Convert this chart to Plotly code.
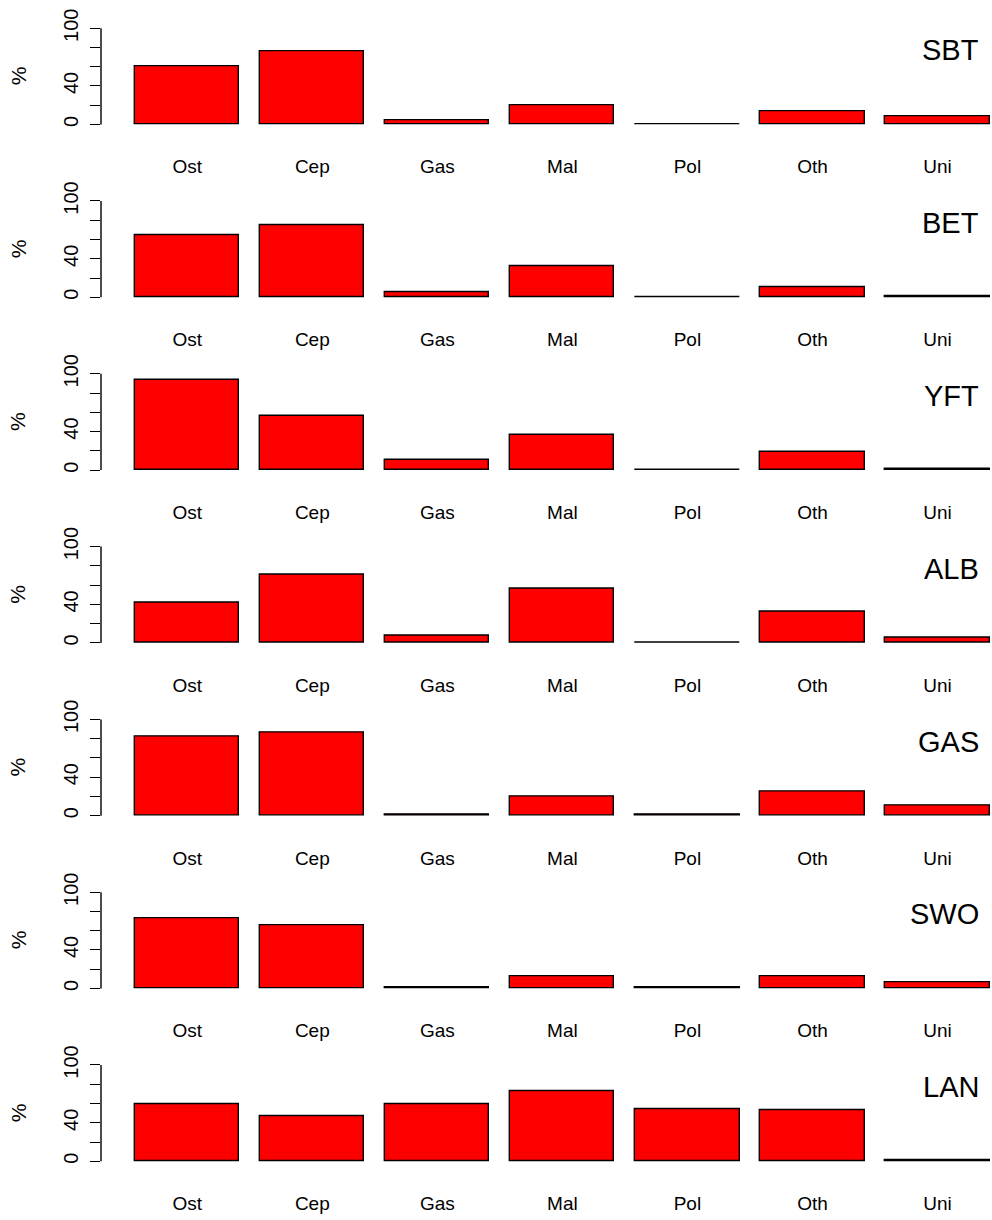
import plotly.graph_objects as go

# Prey categories (x axis) and predator species (one panel each)
categories = ["Ost", "Cep", "Gas", "Mal", "Pol", "Oth", "Uni"]
species = ["SBT", "BET", "YFT", "ALB", "GAS", "SWO", "LAN"]
y_tickvals = [0, 20, 40, 60, 80, 100]
y_ticktext = ["0", "", "40", "", "", "100"]

# Percentage of stomachs containing each prey category
SBT = [60.0, 76.0, 4.5, 19.5, 0.6, 13.3, 8.3]
BET = [65.0, 75.0, 5.8, 32.7, 0.6, 10.7, 1.5]
YFT = [93.3, 56.7, 10.1, 36.3, 0.6, 18.4, 1.5]
ALB = [42.0, 70.6, 7.0, 56.0, 0.6, 32.0, 5.2]
GAS = [82.2, 86.3, 1.5, 19.4, 1.5, 25.3, 11.0]
SWO = [73.3, 65.4, 0.8, 12.9, 0.8, 12.9, 6.0]
LAN = [59.0, 46.9, 59.0, 73.1, 54.5, 52.8, 1.5]
panels = [SBT, BET, YFT, ALB, GAS, SWO, LAN]

# Page geometry (pixels)
W, H = 992, 1220
LEFT = 101            # left edge of every plotting region
ZERO0 = 124.5         # row of y = 0 in the first panel
STEP = 172.8          # vertical distance between panels
PX_PER_UNIT = 0.963   # pixels per percentage point
YMIN, YMAX = -4, 104
XMIN, XMAX = -0.128, 8.423

FONT = "Liberation Sans, Arial, Helvetica, sans-serif"

# barplot-style positions: width 1, gap 0.2
bar_x = [0.2 + 1.2 * i + 0.5 for i in range(len(categories))]

fig = go.Figure()
annotations = []
shapes = []

for k, (name, vals) in enumerate(zip(species, panels)):
    idx = "" if k == 0 else str(k + 1)
    zero = ZERO0 + k * STEP
    top_px = zero - YMAX * PX_PER_UNIT
    bot_px = zero - YMIN * PX_PER_UNIT
    dom = [1 - bot_px / H, 1 - top_px / H]

    fig.add_trace(go.Bar(
        x=bar_x, y=vals, width=1.0,
        marker=dict(color="#FF0000", line=dict(color="black", width=1.4)),
        xaxis="x" + idx, yaxis="y" + idx,
        showlegend=False, name=name,
    ))

    fig.layout["xaxis" + idx] = dict(
        domain=[0, 1], range=[XMIN, XMAX], anchor="y" + idx,
        tickmode="array", tickvals=bar_x, ticktext=categories,
        showgrid=False, zeroline=False, showline=False, ticks="",
        ticklabelstandoff=25, automargin=False,
        tickfont=dict(family=FONT, size=19, color="black"),
        fixedrange=True,
    )
    fig.layout["yaxis" + idx] = dict(
        domain=dom, range=[YMIN, YMAX], anchor="x" + idx,
        tickmode="array", tickvals=y_tickvals, ticktext=y_ticktext,
        ticks="outside", ticklen=10, tickwidth=1.4, tickcolor="black",
        tickangle=-90, ticklabelstandoff=4, automargin=False,
        tickfont=dict(family=FONT, size=20, color="black"),
        showgrid=False, zeroline=False, showline=False,
        fixedrange=True,
    )

    # axis spine from 0 to 100 only
    shapes.append(dict(
        type="line", xref="x" + idx + " domain", yref="y" + idx,
        x0=0, x1=0, y0=0, y1=100,
        line=dict(color="black", width=1.4),
    ))

    # "%" axis label
    annotations.append(dict(
        text="%", textangle=-90, showarrow=False,
        xref="paper", yref="paper",
        x=-(LEFT - 18) / (W - LEFT), y=1 - (zero - 50 * PX_PER_UNIT) / H,
        xanchor="center", yanchor="middle",
        font=dict(family=FONT, size=21, color="black"),
    ))

    # species name, top right
    annotations.append(dict(
        text=name, showarrow=False,
        xref="paper", yref="paper",
        x=(981 - LEFT) / (W - LEFT), y=1 - (zero - 77 * PX_PER_UNIT) / H,
        xanchor="right", yanchor="middle",
        font=dict(family=FONT, size=29, color="black"),
    ))

fig.update_layout(
    width=W, height=H,
    margin=dict(l=LEFT, r=0, t=0, b=0, autoexpand=False),
    paper_bgcolor="white", plot_bgcolor="white",
    bargap=0, annotations=annotations, shapes=shapes,
    showlegend=False,
)

fig.write_html("out.html")
